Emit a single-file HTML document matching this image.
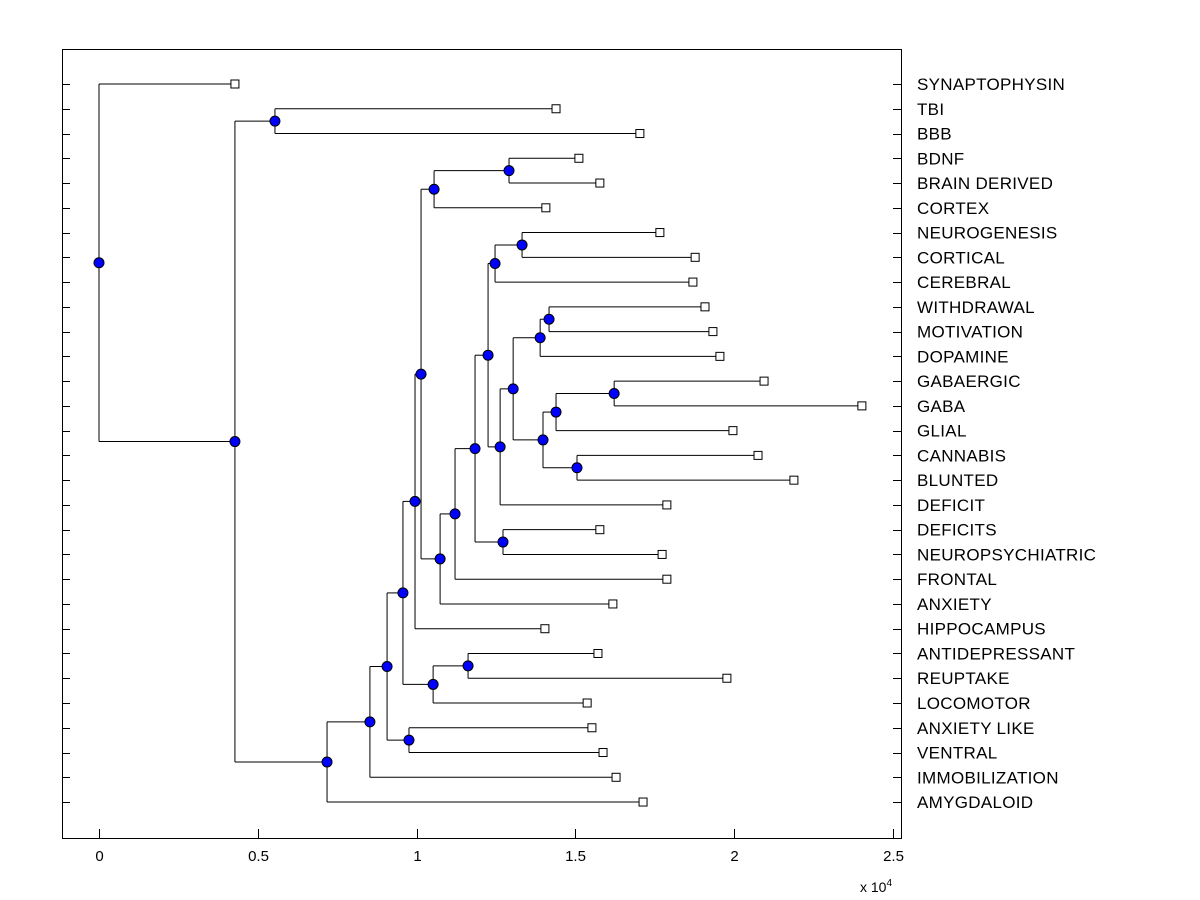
<!DOCTYPE html>
<html><head><meta charset="utf-8"><style>
html,body{margin:0;padding:0;background:#fff;}
svg{display:block;font-family:"Liberation Sans",Arial,sans-serif;}
</style></head><body>
<svg id="chart" width="1200" height="900" viewBox="0 0 1200 900" xmlns="http://www.w3.org/2000/svg">
<rect x="0" y="0" width="1200" height="900" fill="#fff"/>
<rect x="62.5" y="49.5" width="839" height="789" fill="none" stroke="#000" stroke-width="1"/>
<g id="ticks"></g>
<g id="tree"></g>
<g id="labels"></g>
<text x="860" y="892" font-size="14">x 10<tspan dy="-6" font-size="10">4</tspan></text>
</svg>
<script>
const leafNames = ["SYNAPTOPHYSIN","TBI","BBB","BDNF","BRAIN DERIVED","CORTEX","NEUROGENESIS","CORTICAL","CEREBRAL","WITHDRAWAL","MOTIVATION","DOPAMINE","GABAERGIC","GABA","GLIAL","CANNABIS","BLUNTED","DEFICIT","DEFICITS","NEUROPSYCHIATRIC","FRONTAL","ANXIETY","HIPPOCAMPUS","ANTIDEPRESSANT","REUPTAKE","LOCOMOTOR","ANXIETY LIKE","VENTRAL","IMMOBILIZATION","AMYGDALOID"];
const leafValues = [4280,14390,17030,15110,15770,14070,17660,18770,18700,19080,19330,19550,20940,24020,19960,20750,21880,17880,15770,17730,17880,16180,14040,15710,19770,15370,15520,15870,16280,17130];
const mergeLeft  = [12,30,15,31,9,34,35,36,6,38,39,18,40,42,43,3,45,46,47,23,49,48,26,51,53,54,1,56,0];
const mergeRight = [13,14,16,32,10,11,33,17,7,8,37,19,41,20,21,4,5,44,22,24,25,50,27,52,28,29,2,55,57];
const mergeValues = [16220,14390,15050,13980,14170,13890,13040,12630,13320,12470,12250,12720,11840,11210,10740,12910,10550,10140,9950,11620,10520,9570,9760,9070,8530,7180,5540,4280,0];
const xTicks = [0,0.5,1,1.5,2,2.5];

const NS="http://www.w3.org/2000/svg";
const X0=99, PXPER=317.6/10000, Y0=84, DY=24.76;
const xs = v => X0 + v*PXPER;
const ys = i => Y0 + i*DY;
function mk(tag, attrs, parent){const e=document.createElementNS(NS,tag);for(const k in attrs)e.setAttribute(k,attrs[k]);parent.appendChild(e);return e;}
const ticks=document.getElementById('ticks'), tree=document.getElementById('tree'), labels=document.getElementById('labels');

leafNames.forEach((n,i)=>{
  const y=Math.round(ys(i))+0.5;
  const t1=mk('line',{x1:62,x2:70,y1:y,y2:y,stroke:'#000'},ticks);
  
  
  const t2=mk('line',{x1:893,x2:901,y1:y,y2:y,stroke:'#000'},ticks);
  
  
  const tx=mk('text',{x:917,y:ys(i)+6,'font-size':17,'letter-spacing':'0.3'},labels);
  tx.textContent=n;
  
  
});
xTicks.forEach(t=>{
  const x=Math.round(xs(t*10000))+0.5;
  const l=mk('line',{x1:x,x2:x,y1:829,y2:838,stroke:'#000'},ticks);
  
  
  const tx=mk('text',{x:x,y:861,'font-size':15,'text-anchor':'middle'},ticks);
  tx.textContent=String(t);
  
  
});

const nodeX=[], nodeY=[];
leafValues.forEach((v,i)=>{nodeX[i]=xs(v);nodeY[i]=ys(i);});
const N=leafNames.length;
mergeValues.forEach((v,k)=>{
  const id=N+k, a=mergeLeft[k], b=mergeRight[k];
  nodeX[id]=xs(v); nodeY[id]=(nodeY[a]+nodeY[b])/2;
});
mergeValues.forEach((v,k)=>{
  const id=N+k, a=mergeLeft[k], b=mergeRight[k];
  const x=nodeX[id];
  const v1=mk('line',{x1:x,x2:x,y1:nodeY[a],y2:nodeY[b],stroke:'#000','stroke-width':1},tree);
  
  
  [a,b].forEach(c=>{
    const h=mk('line',{x1:x,x2:nodeX[c],y1:nodeY[c],y2:nodeY[c],stroke:'#000','stroke-width':1},tree);
    
    
  });
});
leafValues.forEach((v,i)=>{
  const r=mk('rect',{x:nodeX[i]-4,y:nodeY[i]-4,width:8,height:8,fill:'#fff',stroke:'#000','stroke-width':1},tree);
  
  
});
mergeValues.forEach((v,k)=>{
  const id=N+k;
  const c=mk('circle',{cx:nodeX[id],cy:nodeY[id],r:5,fill:'#0000ff',stroke:'#000','stroke-width':1},tree);
  
  
});
</script>
</body></html>
